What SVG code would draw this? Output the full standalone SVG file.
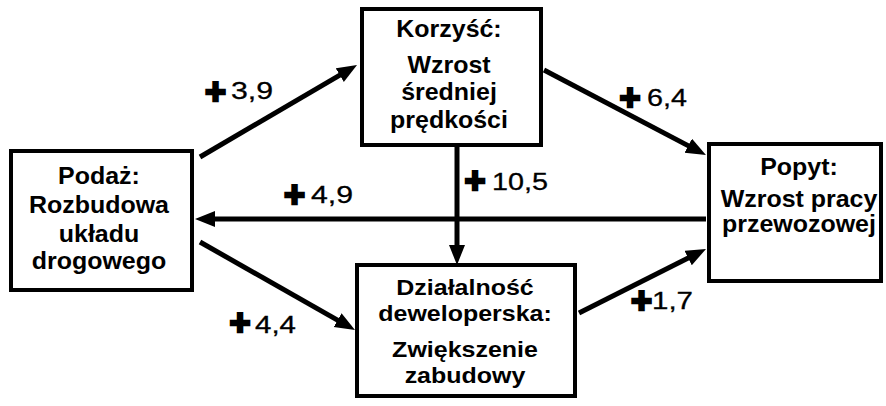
<svg xmlns="http://www.w3.org/2000/svg" width="886" height="406" viewBox="0 0 886 406">
<style>
.box{fill:#fff;stroke:#000;stroke-width:4}
.t{font-family:"Liberation Sans",Arial,sans-serif;font-weight:bold;font-size:24px;fill:#000;text-anchor:middle}
.t2{font-family:"Liberation Sans",Arial,sans-serif;font-weight:bold;font-size:22px;fill:#000;text-anchor:middle}
.plus{font-family:"Liberation Sans",Arial,sans-serif;font-weight:bold;font-size:36px;fill:#000;stroke:#000;stroke-width:2.5;text-anchor:middle}
.num{font-family:"Liberation Sans",Arial,sans-serif;font-size:24px;fill:#000;stroke:#000;stroke-width:0.3}
.c{fill:none;stroke:#000;stroke-width:5}
</style>
<defs>
<marker id="ah" markerUnits="userSpaceOnUse" markerWidth="22" markerHeight="18" refX="10" refY="8" orient="auto">
<path d="M0,0 L20,8 L0,16 z" fill="#000"/>
</marker>
</defs>
<rect width="886" height="406" fill="#fff"/>
<g id="connectors">
<path class="c" d="M200,157 L348.4,70.1" marker-end="url(#ah)"/>
<path class="c" d="M544,70 L697.1,150.4" marker-end="url(#ah)"/>
<path class="c" d="M457,145 L457,255" marker-end="url(#ah)"/>
<path class="c" d="M706,219 L205,219" marker-end="url(#ah)"/>
<path class="c" d="M200,242 L346.3,325.1" marker-end="url(#ah)"/>
<path class="c" d="M579,313 L697.1,253.5" marker-end="url(#ah)"/>
</g>
<g id="podaz">
<rect class="box" x="11" y="151" width="181" height="139"/>
<g transform="translate(99,0) scale(1.04,1)">
<text class="t" x="0" y="184">Podaż:</text>
<text class="t" x="0" y="213">Rozbudowa</text>
<text class="t" x="0" y="242">układu</text>
<text class="t" x="0" y="269">drogowego</text>
</g>
</g>
<g id="korzysc">
<rect class="box" x="362" y="9" width="179" height="136"/>
<g transform="translate(449,0) scale(1.04,1)">
<text class="t" x="0" y="37">Korzyść:</text>
<text class="t" x="0" y="73">Wzrost</text>
<text class="t" x="0" y="100">średniej</text>
<text class="t" x="0" y="128">prędkości</text>
</g>
</g>
<g id="dzialalnosc">
<rect class="box" x="357" y="265" width="218" height="131"/>
<g transform="translate(465,0) scale(1.136,1)">
<text class="t2" x="0" y="295">Działalność</text>
<text class="t2" x="0" y="321">deweloperska:</text>
<text class="t2" x="0" y="357">Zwiększenie</text>
<text class="t2" x="0" y="383">zabudowy</text>
</g>
</g>
<g id="popyt">
<rect class="box" x="709" y="144" width="172" height="137"/>
<g transform="translate(799,0) scale(1.04,1)">
<text class="t" x="0" y="175">Popyt:</text>
<text class="t" x="0" y="207">Wzrost pracy</text>
<text class="t" x="0" y="232">przewozowej</text>
</g>
</g>
<g id="labels">
<text class="plus" x="215.5" y="103.6">+</text>
<text class="num" x="231" y="99" textLength="42" lengthAdjust="spacingAndGlyphs">3,9</text>
<text class="plus" x="630" y="109.6">+</text>
<text class="num" x="647" y="106" textLength="40" lengthAdjust="spacingAndGlyphs">6,4</text>
<text class="plus" x="475" y="192.6">+</text>
<text class="num" x="492" y="190" textLength="56" lengthAdjust="spacingAndGlyphs">10,5</text>
<text class="plus" x="294.5" y="206.6">+</text>
<text class="num" x="311" y="203" textLength="42" lengthAdjust="spacingAndGlyphs">4,9</text>
<text class="plus" x="240" y="334.6">+</text>
<text class="num" x="255" y="333" textLength="41" lengthAdjust="spacingAndGlyphs">4,4</text>
<text class="plus" x="641.5" y="312.6">+</text>
<text class="num" x="652" y="309" textLength="41" lengthAdjust="spacingAndGlyphs">1,7</text>
</g>
</svg>
